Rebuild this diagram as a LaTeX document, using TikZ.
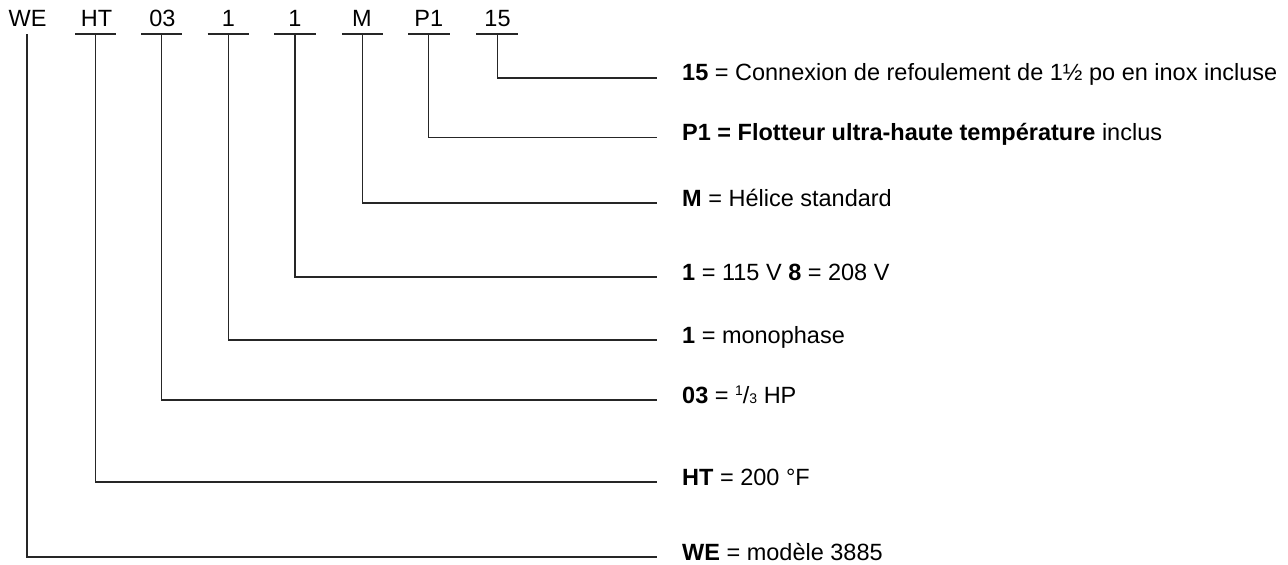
\documentclass[tikz,border=0pt]{standalone}
\usepackage{fontspec}
\setmainfont{Liberation Sans}
\usepackage{tikz}

\tikzset{
  code/.style={anchor=base,inner sep=0pt,font=\fontsize{23.5}{28}\selectfont},
  desc/.style={anchor=base west,inner sep=0pt,font=\fontsize{23.5}{28}\selectfont},
  lead/.style={line width=1.2pt,color=black!85},
}
\newcommand{\onethird}{{\fontsize{14}{14}\selectfont\raisebox{8pt}{1}}/{\fontsize{14}{14}\selectfont 3}}

\begin{document}
\begin{tikzpicture}[x=1pt,y=1pt,yscale=-1,xscale=1]
\useasboundingbox (0,0) rectangle (1288,565);

% Code Nodes
\node (cWE) [code] at (27.5,26.4) {WE};
\node (cHT) [code] at (96.5,26.4) {HT};
\node (cV)  [code] at (162.5,26.4) {03};
\node (cPh) [code] at (228.3,26.4) {1};
\node (cVo) [code] at (294.9,26.4) {1};
\node (cM)  [code] at (362,26.4) {M};
\node (cP)  [code] at (428.8,26.4) {P1};
\node (cD)  [code] at (497.5,26.4) {15};

%Tick points under the codes
\coordinate (tWE) at (27,34);
\coordinate (tHT) at (95.7,34);
\coordinate (tV)  at (161.7,34);
\coordinate (tPh) at (228.3,34);
\coordinate (tVo) at (294.9,34);
\coordinate (tM)  at (362.5,34);
\coordinate (tP)  at (428.8,34);
\coordinate (tD)  at (497.1,34);

% Text Node (baseline 3 px above its leader)
\node (dD)  [desc] at (682,80)  {\textbf{15} = Connexion de refoulement de 1½ po en inox incluse};
\node (dP)  [desc] at (682,140.5) {\textbf{P1 = Flotteur ultra-haute température} inclus};
\node (dM)  [desc] at (682,206) {\textbf{M} = Hélice standard};
\node (dVo) [desc] at (682,280) {\textbf{1} = 115 V \textbf{8} = 208 V};
\node (dPh) [desc] at (682,343) {\textbf{1} = monophase};
\node (dV)  [desc] at (682,403) {\textbf{03} = \onethird\ HP};
\node (dHT) [desc] at (682,485) {\textbf{HT} = 200 °F};
\node (dWE) [desc] at (682,560) {\textbf{WE} = modèle 3885};

%Underlines
\draw [lead] ([xshift=-20.7pt]tHT) -- ([xshift=20.7pt]tHT);
\draw [lead] ([xshift=-20.7pt]tV) -- ([xshift=20.7pt]tV);
\draw [lead] ([xshift=-20.7pt]tPh) -- ([xshift=20.7pt]tPh);
\draw [lead] ([xshift=-20.7pt]tVo) -- ([xshift=20.7pt]tVo);
\draw [lead] ([xshift=-20.7pt]tM) -- ([xshift=20.7pt]tM);
\draw [lead] ([xshift=-20.7pt]tP) -- ([xshift=20.7pt]tP);
\draw [lead] ([xshift=-20.7pt]tD) -- ([xshift=20.7pt]tD);

%Leader lines
\draw [lead] (tD)  |- ([xshift=-25pt,yshift=-2pt]dD.base west);
\draw [lead] (tP)  |- ([xshift=-25pt,yshift=-3pt]dP.base west);
\draw [lead] (tM)  |- ([xshift=-25pt,yshift=-3pt]dM.base west);
\draw [lead] (tVo) |- ([xshift=-25pt,yshift=-3pt]dVo.base west);
\draw [lead] (tPh) |- ([xshift=-25pt,yshift=-3pt]dPh.base west);
\draw [lead] (tV)  |- ([xshift=-25pt,yshift=-3pt]dV.base west);
\draw [lead] (tHT) |- ([xshift=-25pt,yshift=-3pt]dHT.base west);
\draw [lead] (tWE) |- ([xshift=-25pt,yshift=-3pt]dWE.base west);

\end{tikzpicture}
\end{document}
